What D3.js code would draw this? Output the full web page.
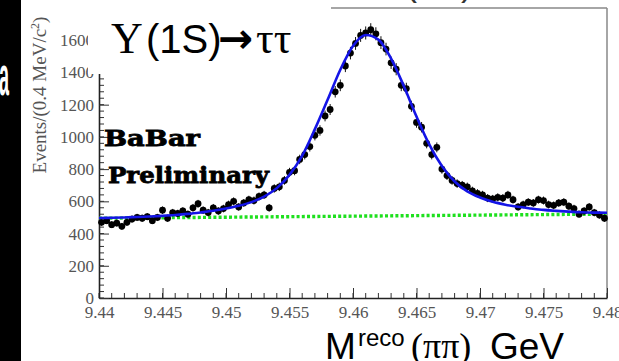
<!DOCTYPE html>
<html><head><meta charset="utf-8">
<script src="https://cdn.jsdelivr.net/npm/d3@7"></script>
<style>html,body{margin:0;padding:0;background:#fff;overflow:hidden}</style>
</head><body><svg id="c" width="619" height="361"></svg>
<script>
const massBins = [
9.4402,9.4406,9.4410,9.4414,9.4418,9.4422,9.4426,9.4430,9.4434,9.4438,
9.4442,9.4446,9.4450,9.4454,9.4458,9.4462,9.4466,9.4470,9.4474,9.4478,
9.4482,9.4486,9.4490,9.4494,9.4498,9.4502,9.4506,9.4510,9.4514,9.4518,
9.4522,9.4526,9.4530,9.4534,9.4538,9.4542,9.4546,9.4550,9.4554,9.4558,
9.4562,9.4566,9.4570,9.4574,9.4578,9.4582,9.4586,9.4590,9.4594,9.4598,
9.4602,9.4606,9.4610,9.4614,9.4618,9.4622,9.4626,9.4630,9.4634,9.4638,
9.4642,9.4646,9.4650,9.4654,9.4658,9.4662,9.4666,9.4670,9.4674,9.4678,
9.4682,9.4686,9.4690,9.4694,9.4698,9.4702,9.4706,9.4710,9.4714,9.4718,
9.4722,9.4726,9.4730,9.4734,9.4738,9.4742,9.4746,9.4750,9.4754,9.4758,
9.4762,9.4766,9.4770,9.4774,9.4778,9.4782,9.4786,9.4790,9.4794,9.4798];
const counts = [
470,480,455,465,445,470,490,500,495,505,
480,500,545,495,530,525,540,520,560,585,
545,530,560,540,555,580,600,565,590,610,
605,630,640,560,680,690,730,780,790,860,
890,940,1010,1040,1130,1170,1280,1320,1440,1520,
1580,1630,1645,1665,1640,1585,1545,1460,1420,1320,
1300,1190,1090,1060,960,890,935,800,760,730,
710,700,690,665,650,640,620,615,625,620,
640,610,565,580,595,590,610,605,580,575,
590,595,570,555,520,540,565,530,515,495];
const fitMass = [
9.440,9.441,9.442,9.443,9.444,9.445,9.446,9.447,9.448,9.449,
9.450,9.451,9.452,9.453,9.454,9.455,9.456,9.457,9.458,9.459,
9.460,9.461,9.462,9.463,9.464,9.465,9.466,9.467,9.468,9.469,
9.470,9.471,9.472,9.473,9.474,9.475,9.476,9.477,9.478,9.479,9.480];
const fitEvents = [
497,498,500,503,506,510,515,522,531,541,
555,572,595,629,682,764,883,1048,1230,1417,
1564,1632,1604,1486,1316,1126,953,819,723,662,
624,597,579,566,556,547,541,536,532,530,529];
const bkgMass = [9.44, 9.48];
const bkgEvents = [495, 521];
const yTicks = [0,200,400,600,800,1000,1200,1400,1600];
const xTicks = [9.44,9.445,9.45,9.455,9.46,9.465,9.47,9.475,9.48];
const xTickLabels = ["9.44","9.445","9.45","9.455","9.46","9.465","9.47","9.475","9.48"];

const svg = d3.select("#c");
const L = 99, R = 607, T = 8, B = 298;
const x = d3.scaleLinear().domain([9.44, 9.48]).range([L, R]);
const y = d3.scaleLinear().domain([0, 1800]).range([B, T]);

// black strip at left
svg.append("rect").attr("x",0).attr("y",0).attr("width",21).attr("height",361).attr("fill","#000");
svg.append("text").attr("x",-1).attr("y",95).attr("fill","#fff")
  .style("font-family","Liberation Sans").style("font-weight","bold").style("font-size","56px")
  .attr("textLength",10).attr("lengthAdjust","spacingAndGlyphs").text("a");

// frame right / top
svg.append("line").attr("x1",R).attr("x2",R).attr("y1",T).attr("y2",B).attr("stroke","#888").attr("stroke-width",1.5);
svg.append("line").attr("x1",L).attr("x2",R).attr("y1",T).attr("y2",T).attr("stroke","#888").attr("stroke-width",1.5);

// minor ticks
const gm = svg.append("g").attr("stroke","#333").attr("stroke-width",1);
gm.selectAll("line.xm").data(x.ticks(40)).join("line")
  .attr("x1",d=>x(d)).attr("x2",d=>x(d)).attr("y1",B).attr("y2",B-5);
gm.selectAll("line.ym").data(d3.range(0,1801,40)).join("line")
  .attr("y1",d=>y(d)).attr("y2",d=>y(d)).attr("x1",L).attr("x2",L+5);

// axes
const ax = svg.append("g").attr("transform",`translate(0,${B})`)
  .call(d3.axisBottom(x).tickValues(xTicks).tickFormat((d,i)=>xTickLabels[i]).tickSize(-10).tickSizeOuter(0).tickPadding(8));
const ay = svg.append("g").attr("transform",`translate(${L},0)`)
  .call(d3.axisLeft(y).tickValues(yTicks).tickFormat(d3.format("d")).tickSize(-10).tickSizeOuter(0).tickPadding(5));
[ax, ay].forEach(g => {
  g.attr("font-family", null).attr("font-size", null);
  g.selectAll("path.domain").attr("stroke","#222").attr("stroke-width",1.6);
  g.selectAll(".tick line").attr("stroke","#333");
  g.selectAll("text").style("font-family","'Liberation Serif', 'DejaVu Serif', serif")
    .style("font-size","17px").attr("fill","#555");
});

// background (dotted green)
const line = d3.line().x(d=>x(d[0])).y(d=>y(d[1]));
svg.append("path").datum(bkgMass.map((m,i)=>[m,bkgEvents[i]]))
  .attr("d",line).attr("fill","none").attr("stroke","#1ee01e").attr("stroke-width",3.4)
  .attr("stroke-dasharray","3,2.2");

// data points with error bars
const pts = massBins.map((m,i)=>[m,counts[i]]);
svg.append("g").selectAll("line").data(pts).join("line")
  .attr("x1",d=>x(d[0])).attr("x2",d=>x(d[0]))
  .attr("y1",d=>y(d[1]+Math.sqrt(d[1]))).attr("y2",d=>y(d[1]-Math.sqrt(d[1])))
  .attr("stroke","#111").attr("stroke-width",1);
svg.append("g").selectAll("circle").data(pts).join("circle")
  .attr("cx",d=>x(d[0])).attr("cy",d=>y(d[1])).attr("r",3.4).attr("fill","#000");

// fit curve
const fline = d3.line().x(d=>x(d[0])).y(d=>y(d[1])).curve(d3.curveMonotoneX);
svg.append("path").datum(fitMass.map((m,i)=>[m,fitEvents[i]]))
  .attr("d",fline).attr("fill","none").attr("stroke","#1414e6").attr("stroke-width",2.6);

// white cover box top-left
svg.append("rect").attr("x",88).attr("y",0).attr("width",243).attr("height",74).attr("fill","#fff");

// cut-off text at the top
svg.append("text").attr("x",405).attr("y",-5).style("font-family","Liberation Sans").style("font-size","36px")
  .attr("fill","#333").text("(1S)");

// title
const t = svg.append("text").attr("y",53).attr("fill","#000");
t.append("tspan").attr("x",111).style("font-family","Liberation Serif").style("font-size","44px").text("Υ");
t.append("tspan").attr("x",146).style("font-family","Liberation Sans").style("font-size","40px").text("(1S)");
t.append("tspan").attr("x",218).style("font-family","DejaVu Sans").style("font-weight","bold").style("font-size","42px").text("→");
t.append("tspan").attr("x",256).style("font-family","Liberation Serif").style("font-size","44px").text("ττ");

// y label
const yl = svg.append("text").attr("transform","translate(46,95) rotate(-90)").attr("text-anchor","middle")
  .style("font-family","Liberation Serif").style("font-size","19px").attr("fill","#555");
yl.append("tspan").text("Events/(0.4 MeV/c");
yl.append("tspan").attr("dy",-7).style("font-size","12px").text("2");
yl.append("tspan").attr("dy",7).text(")");

// BaBar Preliminary
svg.append("text").attr("x",104).attr("y",146).style("font-family","DejaVu Serif").style("font-weight","900")
  .style("font-size","22px").attr("textLength",96).attr("lengthAdjust","spacingAndGlyphs")
  .attr("fill","#000").attr("stroke","#000").attr("stroke-width",0.8).text("BaBar");
svg.append("text").attr("x",108).attr("y",183).style("font-family","DejaVu Serif").style("font-weight","900")
  .style("font-size","22px").attr("textLength",161).attr("lengthAdjust","spacingAndGlyphs")
  .attr("fill","#000").attr("stroke","#000").attr("stroke-width",0.8).text("Preliminary");

// x title
const xt = svg.append("g").attr("fill","#000");
xt.append("text").attr("x",325).attr("y",359).style("font-family","Liberation Sans").style("font-size","37px").text("M");
xt.append("text").attr("x",358).attr("y",346).style("font-family","Liberation Sans").style("font-size","24px").text("reco");
xt.append("text").attr("x",411).attr("y",358).style("font-family","Liberation Serif").style("font-size","36px").text("(ππ)");
xt.append("text").attr("x",490).attr("y",359).style("font-family","Liberation Sans").style("font-size","37px").text("GeV");
</script></body></html>
